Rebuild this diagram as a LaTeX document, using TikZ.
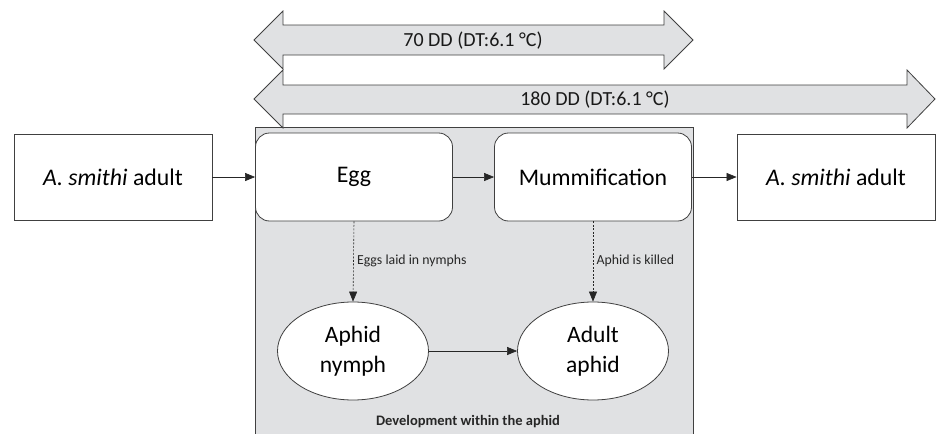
\documentclass[tikz,border=0pt]{standalone}
\usepackage{fontspec}
\setmainfont{Carlito}
\usetikzlibrary{arrows.meta,shapes.geometric}
\definecolor{bggray}{RGB}{224,225,227}
\definecolor{edge}{RGB}{64,64,64}
\begin{document}
\begin{tikzpicture}[x=1pt,y=-1pt,
  plainbox/.style={draw=edge,line width=0.8pt,fill=white,minimum width=198pt,minimum height=86pt,font=\fontsize{23.8}{28}\selectfont},
  roundbox/.style={plainbox,rounded corners=14pt,minimum width=197pt,minimum height=88pt},
  oval/.style={draw=edge,line width=0.8pt,fill=white,ellipse,minimum width=151pt,minimum height=98pt,inner sep=0pt,align=center,font=\fontsize{23.5}{30}\selectfont},
  conn/.style={draw=black!85,line width=0.6pt,-{Triangle[length=10pt,width=8pt]}},
  dconn/.style={conn,dash pattern=on 2pt off 1.5pt},
  blockarrow/.style={draw=edge,line width=0.8pt,fill=bggray,line join=miter},
  small/.style={font=\fontsize{13.8}{16}\selectfont,text=black!85},
  biglabel/.style={font=\fontsize{20}{24}\selectfont,text=black!90}]
\useasboundingbox (0,0) rectangle (938,434);
% gray development area
\fill[bggray] (255,127) rectangle (693,434);
\draw[edge,line width=0.8pt] (255,434) -- (255,127) -- (693,127) -- (693,434);
% block arrows
\draw[blockarrow] (254,40) -- (283,11) -- (283,25) -- (664,25) -- (664,11) -- (693,40) -- (664,69) -- (664,55) -- (283,55) -- (283,69) -- cycle;
\node[biglabel] (dd70) at (473,41) {70 DD (DT:6.1 °C)};
\draw[blockarrow] (254,99) -- (283,70) -- (283,85) -- (907,85) -- (907,70) -- (935,99) -- (907,128) -- (907,114) -- (283,114) -- (283,128) -- cycle;
\node[biglabel] (dd180) at (595,100) {180 DD (DT:6.1 °C)};
% nodes
\node[plainbox] (adultL) at (113,177) {\textit{A. smithi} adult};
\node[roundbox] (egg) at (354,177) {Egg};
\node[roundbox] (mumm) at (593,177) {Mummification};
\node[plainbox] (adultR) at (836,177) {\textit{A. smithi} adult};
\node[oval] (nymph) at (353,351) {Aphid\\nymph};
\node[oval] (adaphid) at (593,351) {Adult\\aphid};
\node[font=\bfseries\fontsize{14.5}{17}\selectfont,text=black!85] (dev) at (468,422) {Development within the aphid};
% connectors
\draw[conn] (adultL) -- (egg);
\draw[conn] (egg) -- (mumm);
\draw[conn] (mumm) -- (adultR);
\draw[conn] (nymph) -- (adaphid);
\draw[dconn] (egg.south) -- node[small,right,pos=0.5,yshift=1pt] {Eggs laid in nymphs} (nymph.north);
\draw[dconn] (mumm.south) -- node[small,right,pos=0.5,yshift=1pt] {Aphid is killed} (adaphid.north);
\end{tikzpicture}
\end{document}
